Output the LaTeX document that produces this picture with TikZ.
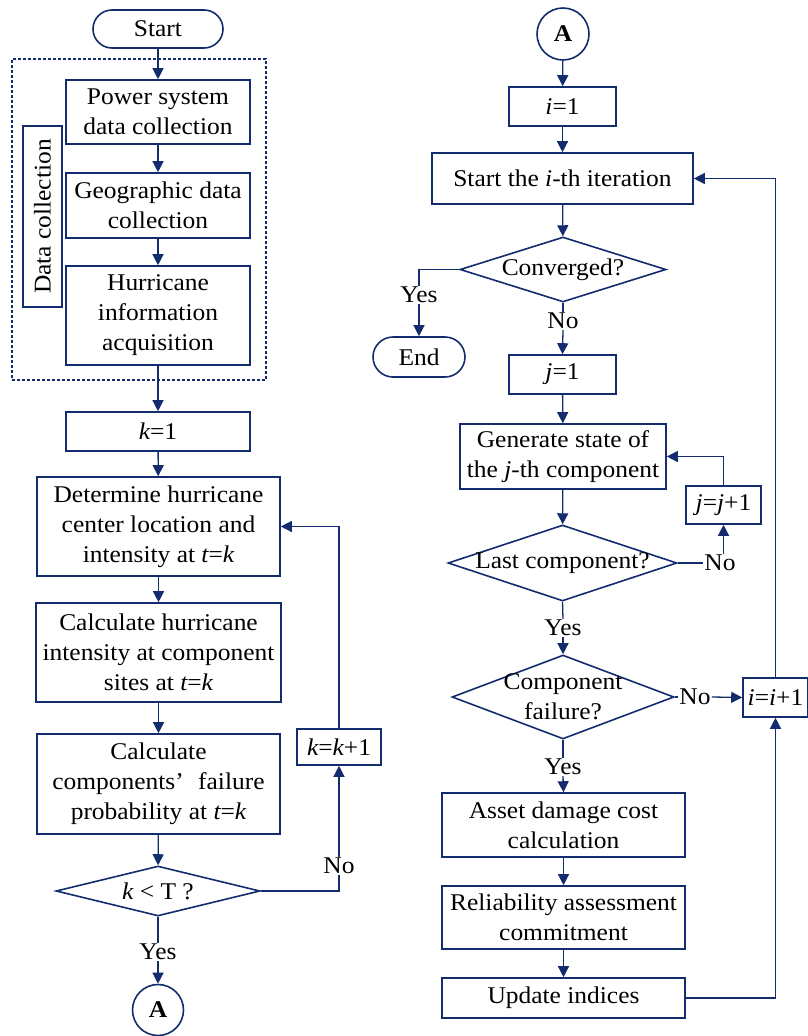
\documentclass[tikz,border=0pt]{standalone}
\usepackage{fontspec}
\setmainfont{Liberation Serif}[FakeStretch=1.06]
\usetikzlibrary{shapes.geometric,arrows.meta}
\definecolor{navy}{RGB}{18,44,110}
\begin{document}
\begin{tikzpicture}[x=1pt,y=-1pt,
  every node/.style={font=\fontsize{24}{30}\selectfont, text=black},
  box/.style={draw=navy, line width=1.6pt, inner sep=0pt, align=center},
  term/.style={box, rounded corners=19pt},
  dia/.style={draw=navy, line width=1.6pt, diamond, inner sep=0pt},
  lab/.style={fill=white, inner sep=1pt},
  con/.style={draw=navy, line width=1.3pt},
  arr/.style={con, -{Triangle[length=11pt,width=11pt]}}]
\useasboundingbox (0,0) rectangle (808,1036);
% ---------------- left column ----------------
\node[term, minimum width=130pt, minimum height=38pt] (start) at (158,29) {Start};
\node[draw=navy, line width=1.1pt, dash pattern=on 3pt off 2pt, minimum width=254pt, minimum height=321pt, inner sep=0pt] (dc) at (139,219.5) {};
\node[box, minimum width=184pt, minimum height=64pt] (power) at (158,112) {Power system\\data collection};
\node[box, minimum width=184pt, minimum height=65pt] (geo) at (158,205.5) {Geographic data\\collection};
\node[box, minimum width=184pt, minimum height=99pt] (hurr) at (158,315.5) {Hurricane\\information\\acquisition};
\node[box, rotate=90, minimum width=181pt, minimum height=39pt] (dclab) at (42.5,216.5) {Data collection};
\node[box, minimum width=184pt, minimum height=39pt] (k1) at (158,431.5) {{\itshape k}=1};
\node[box, minimum width=243pt, minimum height=99pt] (det) at (158.5,526.5) {Determine hurricane\\center location and\\intensity at {\itshape t}={\itshape k}};
\node[box, minimum width=245pt, minimum height=99pt] (calc1) at (158.5,652.5) {Calculate hurricane\\intensity at component\\sites at {\itshape t}={\itshape k}};
\node[box, minimum width=243pt, minimum height=100pt] (calc2) at (158.5,784) {Calculate\\components’\hspace{0.6em}failure\\probability at {\itshape t}={\itshape k}};
\node[dia, minimum width=204pt, minimum height=50pt] (kT) at (158,891) {};
\node (kTt) at (kT) {{\itshape k} < T ?};
\node[box, minimum width=84pt, minimum height=36pt] (kk1) at (339,747) {{\itshape k}={\itshape k}+1};
\node[box, circle, minimum size=51pt] (A1) at (158,1010) {\textbf{A}};
\node[lab] (no1) at (339,866) {No};
\node[lab] (yes1) at (158,952) {Yes};
% ---------------- right column ----------------
\node[box, circle, minimum size=52pt] (A2) at (563,34) {\textbf{A}};
\node[box, minimum width=107pt, minimum height=39pt] (i1) at (562.5,106.5) {{\itshape i}=1};
\node[box, minimum width=261pt, minimum height=51pt] (iter) at (562.5,178.5) {Start the {\itshape i}-th iteration};
\node[dia, minimum width=206pt, minimum height=65pt] (conv) at (563,269.5) {};
\node (convt) at (conv) {Converged?};
\node[lab] (yes2) at (419,295) {Yes};
\node[term, rounded corners=20pt, minimum width=92pt, minimum height=40pt] (end) at (419,357) {End};
\node[lab] (no2) at (563,321) {No};
\node[box, minimum width=107pt, minimum height=39pt] (j1) at (562.5,374.5) {{\itshape j}=1};
\node[box, minimum width=206pt, minimum height=65pt] (gen) at (563,456.5) {Generate state of\\the {\itshape j}-th component};
\node[box, minimum width=75pt, minimum height=38pt] (jj1) at (723.5,505) {{\itshape j}={\itshape j}+1};
\node[dia, minimum width=229pt, minimum height=76pt] (last) at (562.5,563) {};
\node (lastt) at (last) {Last component?};
\node[lab] (no3) at (720,563) {No};
\node[lab] (yes3) at (563,628) {Yes};
\node[dia, minimum width=222pt, minimum height=84pt] (fail) at (563,697) {};
\node[align=center] (failt) at (fail) {Component\\failure?};
\node[lab] (no4) at (695,697) {No};
\node[box, minimum width=65pt, minimum height=39pt] (ii1) at (775.5,697.5) {{\itshape i}={\itshape i}+1};
\node[lab] (yes4) at (563,767) {Yes};
\node[box, minimum width=243pt, minimum height=64pt] (asset) at (563.5,825) {Asset damage cost\\calculation};
\node[box, minimum width=243pt, minimum height=63pt] (rel) at (563.5,917.5) {Reliability assessment\\commitment};
\node[box, minimum width=243pt, minimum height=40pt] (upd) at (563.5,998) {Update indices};
% ---------------- connectors left ----------------
\draw[arr] (start) -- (power);
\draw[arr] (power) -- (geo);
\draw[arr] (geo) -- (hurr);
\draw[arr] (hurr) -- (k1);
\draw[arr] (k1) -- (det);
\draw[arr] (det) -- (calc1);
\draw[arr] (calc1) -- (calc2);
\draw[arr] (calc2) -- (kT);
\draw[con] (kT.east) -| (no1.south);
\draw[arr] (no1.north) -- (kk1.south);
\draw[arr] (kk1.north) |- (det.east);
\draw[con] (kT.south) -- (yes1.north);
\draw[arr] (yes1.south) -- (A1.north);
% ---------------- connectors right ----------------
\draw[arr] (A2) -- (i1);
\draw[arr] (i1) -- (iter);
\draw[arr] (iter) -- (conv);
\draw[con] (conv.west) -| (yes2.north);
\draw[arr] (yes2.south) -- (end.north);
\draw[con] (conv.south) -- (no2.north);
\draw[arr] (no2.south) -- (j1.north);
\draw[arr] (j1) -- (gen);
\draw[arr] (gen) -- (last);
\draw[con] (last.east) -- (no3.west);
\draw[arr] (no3.north -| jj1.south) -- (jj1.south);
\draw[arr] (jj1.north) |- (gen.east);
\draw[con] (last.south) -- (yes3.north);
\draw[arr] (yes3.south) -- (fail.north);
\draw[con] (fail.east) -- (no4.west);
\draw[arr] (no4.east) -- (ii1.west);
\draw[con] (fail.south) -- (yes4.north);
\draw[arr] (yes4.south) -- (asset.north);
\draw[arr] (asset) -- (rel);
\draw[arr] (rel) -- (upd);
\draw[arr] (upd.east) -| (ii1.south);
\draw[arr] (ii1.north) |- (iter.east);
\end{tikzpicture}
\end{document}
